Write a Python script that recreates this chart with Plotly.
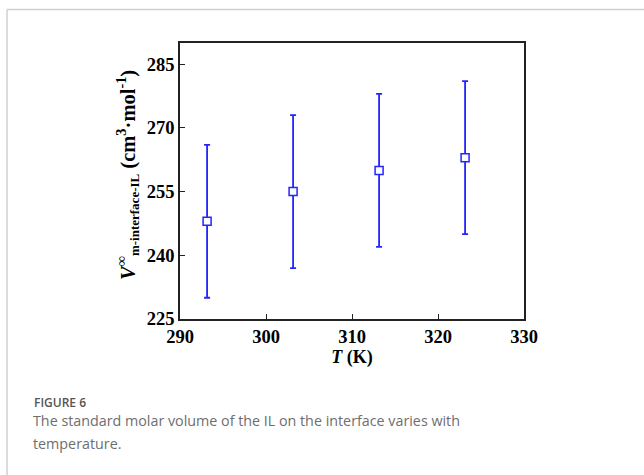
import plotly.graph_objects as go

# Data
temperature_K = [293.15, 303.15, 313.15, 323.15]
volume = [248, 255, 260, 263]
volume_err = [18, 18, 18, 18]
x_ticks = [290, 300, 310, 320, 330]
y_ticks = [225, 240, 255, 270, 285]

BLUE = "#2424ff"
SERIF = "Liberation Serif"

fig = go.Figure()
fig.add_trace(go.Scatter(
    x=temperature_K, y=volume, mode="markers",
    marker=dict(symbol="square", size=8, color="white",
                line=dict(color=BLUE, width=1.5)),
    error_y=dict(type="data", array=volume_err, visible=True,
                 color=BLUE, thickness=1.8, width=3),
    showlegend=False,
))

axis_common = dict(
    showline=True, linecolor="#222", linewidth=1.5, mirror=True,
    ticks="inside", ticklen=5, tickwidth=1.2, tickcolor="#222",
    showgrid=False, zeroline=False,
    tickfont=dict(family=SERIF, size=18.5, color="black", weight="bold"),
)

fig.update_xaxes(
    range=[290, 330], tickvals=x_ticks, ticktext=[str(v) for v in x_ticks],
    title=dict(text="<i>T</i> (K)", standoff=0,
               font=dict(family=SERIF, size=18, color="black", weight="bold")),
    **axis_common,
)
fig.update_yaxes(
    range=[225, 290], tickvals=y_ticks, ticktext=[str(v) for v in y_ticks],
    **axis_common,
)

L, R, T, B = 180, 120, 43, 156
W, H = 644, 475
pw, ph = W - L - R, H - T - B

def fx(px):
    return (px - L) / pw

def fy(py):
    return 1 - (py - T) / ph

# y-axis title
fig.add_annotation(xref="paper", yref="paper", x=fx(127), y=fy(175),
                   xanchor="center", yanchor="middle", showarrow=False, textangle=-90,
                   text=("<i>V</i><sup>∞</sup><sub><span style=\"font-size:13px\">m-interface-IL</span></sub>"
                         " (cm<sup>3</sup>·mol<sup>-1</sup>)"),
                   font=dict(family=SERIF, size=20.5, color="black", weight="bold"))

# card border (top and left lines)
fig.add_shape(type="line", xref="paper", yref="paper",
              x0=fx(7), x1=fx(W + 5), y0=fy(9.5), y1=fy(9.5),
              line=dict(color="#d0d0d0", width=1.5))
fig.add_shape(type="line", xref="paper", yref="paper",
              x0=fx(7), x1=fx(7), y0=fy(9.5), y1=fy(H + 5),
              line=dict(color="#d0d0d0", width=1.5))

fig.add_annotation(xref="paper", yref="paper", x=fx(32), y=fy(392),
                   xanchor="left", yanchor="top", showarrow=False,
                   text="FIGURE 6",
                   font=dict(family="Open Sans", size=12, color="#555", weight=600))
fig.add_annotation(xref="paper", yref="paper", x=fx(31), y=fy(409),
                   xanchor="left", yanchor="top", showarrow=False, align="left",
                   text="The standard molar volume of the IL on the interface varies with",
                   font=dict(family="Open Sans", size=14.3, color="#6e6e6e"))
fig.add_annotation(xref="paper", yref="paper", x=fx(31), y=fy(432),
                   xanchor="left", yanchor="top", showarrow=False, align="left",
                   text="temperature.",
                   font=dict(family="Open Sans", size=14.3, color="#6e6e6e"))

fig.update_layout(
    width=W, height=H,
    margin=dict(l=L, r=R, t=T, b=B, autoexpand=False),
    paper_bgcolor="white", plot_bgcolor="white",
)

fig.write_html("out.html")
